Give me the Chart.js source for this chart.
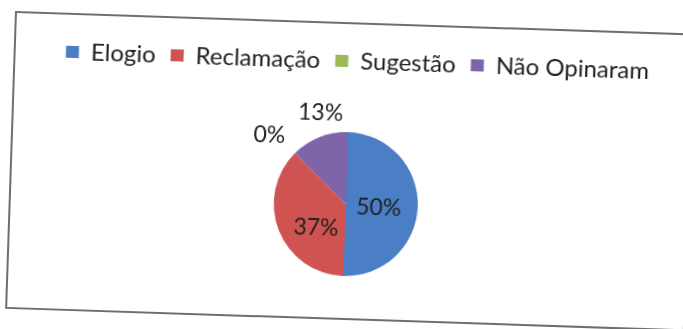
<!DOCTYPE html>
<html>
<head>
<meta charset="utf-8">
<script src="https://cdn.jsdelivr.net/npm/chart.js@4/dist/chart.umd.min.js"></script>
<style>
  html, body { margin: 0; padding: 0; background: #fff; overflow: hidden; width: 683px; height: 329px; }
  .frame {
    position: absolute; left: 15px; top: 11px;
    width: 680px; height: 298px;
    border: 2px solid #6e6e6e; box-sizing: border-box;
    transform-origin: 0 0; transform: rotate(1.9deg);
  }
  .plot { position: absolute; left: 0; top: 0; width: 676px; height: 322px; }
</style>
</head>
<body>
<div class="frame"><div class="plot"><canvas id="c"></canvas></div></div>
<script>
// Opinion categories and their shares (percent)
const categories = ['Elogio', 'Reclamação', 'Sugestão', 'Não Opinaram'];
const shares = [50, 37, 0, 13];
const sliceColors = ['#4A7EC5', '#CF5351', '#9BBB59', '#7E65A9'];

// Where each percentage label sits: turn (degrees) from the slice's mid-angle
// and distance as a fraction of the outer radius
const labelPlacement = [
  { turn: 5, r: 0.46 },
  { turn: -17, r: 0.53 },
  { turn: -3, r: 1.43 },
  { turn: 6, r: 1.31 }
];

// Legend row sits a little right of the pie's centre line
const legendShift = 7;

const legendNudge = {
  id: 'legendNudge',
  afterLayout(chart) {
    chart.legend.left += legendShift;
    chart.legend.right += legendShift;
  }
};

const percentLabels = {
  id: 'percentLabels',
  afterDatasetsDraw(chart) {
    const ctx = chart.ctx;
    const meta = chart.getDatasetMeta(0);
    const values = chart.data.datasets[0].data;
    ctx.save();
    ctx.font = '23px Lato';
    ctx.fillStyle = '#222';
    ctx.textAlign = 'center';
    ctx.textBaseline = 'middle';
    meta.data.forEach((arc, i) => {
      const p = arc.getProps(['x', 'y', 'startAngle', 'endAngle', 'outerRadius'], true);
      const place = labelPlacement[i];
      const a = (p.startAngle + p.endAngle) / 2 + place.turn * Math.PI / 180;
      const r = p.outerRadius * place.r;
      ctx.fillText(values[i] + '%', p.x + Math.cos(a) * r, p.y + Math.sin(a) * r);
    });
    ctx.restore();
  }
};

new Chart(document.getElementById('c'), {
  type: 'pie',
  data: {
    labels: categories,
    datasets: [{
      data: shares,
      backgroundColor: sliceColors,
      borderWidth: 0,
      radius: 72
    }]
  },
  options: {
    responsive: true,
    maintainAspectRatio: false,
    animation: false,
    layout: { padding: { top: 10, bottom: 21, left: 0, right: 6 } },
    plugins: {
      legend: {
        position: 'top',
        labels: {
          font: { family: 'Lato', size: 24 },
          color: '#1e1e1e',
          boxWidth: 13,
          boxHeight: 12,
          padding: 15
        }
      },
      tooltip: { enabled: false }
    }
  },
  plugins: [legendNudge, percentLabels]
});
</script>
</body>
</html>
